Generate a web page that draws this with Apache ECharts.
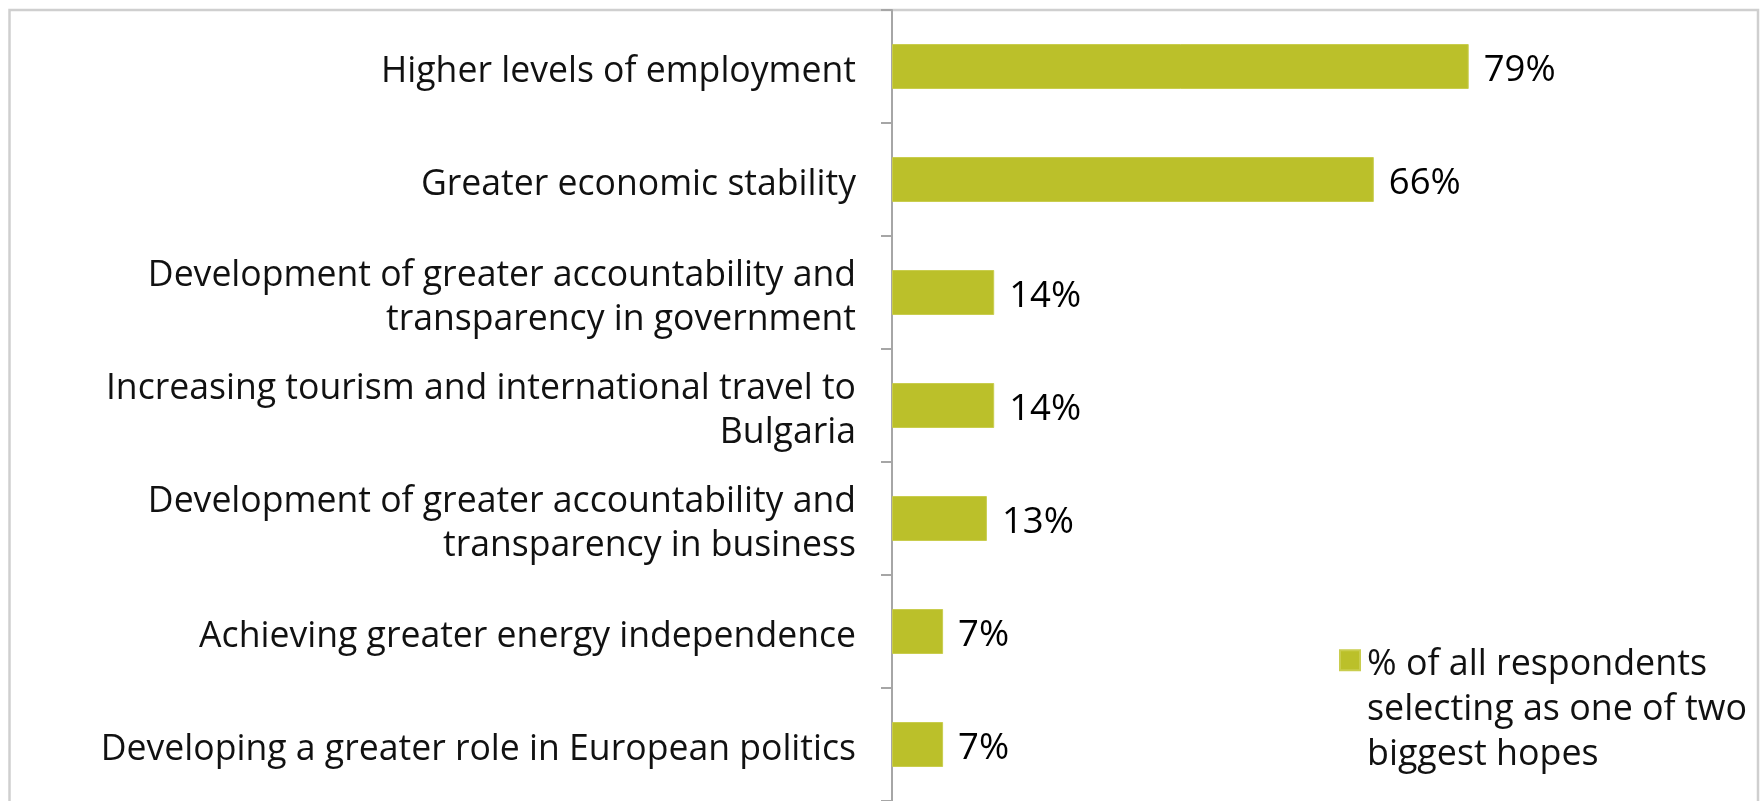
<!DOCTYPE html>
<html>
<head>
<meta charset="utf-8">
<script src="https://cdn.jsdelivr.net/npm/echarts@6/dist/echarts.min.js"></script>
<style>
  html, body { margin: 0; padding: 0; background: #fff; }
  #chart { width: 1764px; height: 801px; }
</style>
</head>
<body>
<div id="chart"></div>
<script>
// Survey: biggest hopes (share of respondents naming each as one of two)
const categories = [
  'Higher levels of employment',
  'Greater economic stability',
  'Development of greater accountability and\ntransparency in government',
  'Increasing tourism and international travel to\nBulgaria',
  'Development of greater accountability and\ntransparency in business',
  'Achieving greater energy independence',
  'Developing a greater role in European politics'
];
const values = [79, 66, 14, 14, 13, 7, 7];
const seriesName = '% of all respondents\nselecting as one of two\nbiggest hopes';

const BAR_COLOR = '#BBC02A';
const FONT = '"Open Sans", "Noto Sans", sans-serif';

const chart = echarts.init(document.getElementById('chart'), null, { renderer: 'canvas' });

chart.setOption({
  backgroundColor: '#ffffff',
  animation: false,
  graphic: [{
    // thin grey frame around the chart area (open at the bottom edge)
    type: 'rect',
    silent: true,
    z: -1,
    shape: { x: 9.5, y: 10, width: 1748.5, height: 820 },
    style: { fill: 'none', stroke: '#CFCFCF', lineWidth: 2.5 }
  }],
  grid: { left: 892, top: 10, width: 730, height: 797, containLabel: false },
  xAxis: {
    type: 'value',
    min: 0,
    max: 100,
    show: false
  },
  yAxis: {
    type: 'category',
    data: categories,
    inverse: true,
    axisLine: { show: true, lineStyle: { color: '#A6A6A6', width: 2 } },
    axisTick: { show: true, length: 11, lineStyle: { color: '#A6A6A6', width: 2 } },
    axisLabel: {
      interval: 0,
      margin: 36,
      align: 'right',
      // each line is its own rich token so it can sit a little below the band centre
      formatter: function (v) {
        return v.split('\n').map(function (s) { return '{t|' + s + '}'; }).join('\n');
      },
      rich: {
        t: {
          color: '#111',
          fontFamily: FONT,
          fontSize: 35.6,
          lineHeight: 44,
          padding: [11, 0, 0, 0]
        }
      }
    },
    splitLine: { show: false }
  },
  legend: {
    left: 1339,
    top: 642,
    padding: 0,
    orient: 'vertical',
    itemWidth: 20,
    itemHeight: 134,
    // square marker sitting beside the first line of the legend text
    icon: 'path://M0 0 M0 7.3h20v20h-20z M0 134',
    textStyle: {
      fontFamily: FONT,
      fontSize: 35.8,
      lineHeight: 44.7,
      color: '#111',
      padding: [0, 0, 0, 2]
    },
    data: [seriesName]
  },
  series: [{
    name: seriesName,
    type: 'bar',
    data: values,
    barWidth: 45,
    itemStyle: { color: BAR_COLOR, borderColor: '#C9CD4E', borderWidth: 1 },
    label: {
      show: true,
      position: 'right',
      distance: 15,
      offset: [0, 4.5],
      formatter: '{c}%',
      color: '#000',
      fontFamily: FONT,
      fontSize: 36.5
    }
  }]
});
</script>
</body>
</html>
